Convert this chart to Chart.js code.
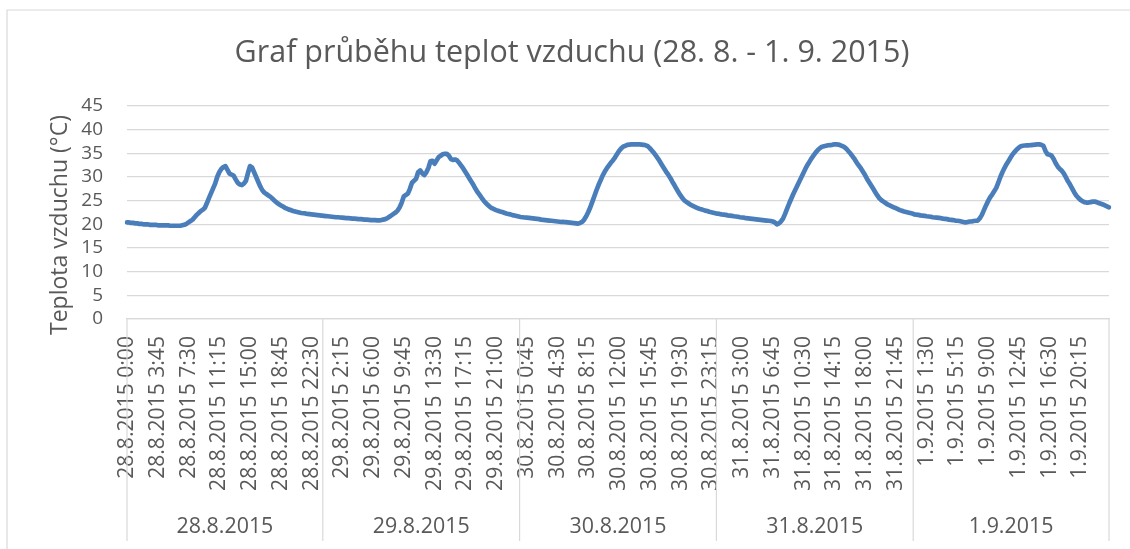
<!DOCTYPE html>
<html><head><meta charset="utf-8">
<script src="https://cdn.jsdelivr.net/npm/chart.js@4.4.1/dist/chart.umd.min.js"></script>
<style>html,body{margin:0;padding:0;background:#fff}canvas{display:block}</style>
</head><body>
<canvas id="c" width="1130" height="549"></canvas>
<script>
const chartTitle = 'Graf průběhu teplot vzduchu (28. 8. - 1. 9. 2015)';
const yTitle = 'Teplota vzduchu (°C)';
const days = ['28.8.2015', '29.8.2015', '30.8.2015', '31.8.2015', '1.9.2015'];
const yTicks = [0, 5, 10, 15, 20, 25, 30, 35, 40, 45];
const labelEvery = 15; // every 15th 15-minute reading gets a tick label

const temp28 = [
 20.4,20.4,20.3,20.3,20.2,20.2,20.1,20.1,
 20.0,20.0,20.0,19.9,19.9,19.9,19.9,19.8,
 19.8,19.8,19.8,19.8,19.8,19.7,19.7,19.7,
 19.7,19.7,19.7,19.8,19.9,20.1,20.4,20.7,
 21.0,21.5,22.0,22.4,22.8,23.1,23.5,24.5,
 25.6,26.6,27.6,28.6,30.0,31.0,31.7,32.1,
 32.3,31.5,30.7,30.5,30.3,29.5,28.8,28.4,
 28.3,28.6,29.2,30.8,32.3,32.0,31.0,30.0,
 29.0,28.0,27.2,26.7,26.4,26.1,25.8,25.4,
 25.0,24.6,24.3,24.0,23.8,23.5,23.3,23.1,
 23.0,22.8,22.7,22.6,22.5,22.4,22.35,22.3,
 22.2,22.15,22.1,22.05,22.0,21.95,21.9,21.85];
const temp29 = [
 21.8,21.75,21.7,21.65,21.6,21.55,21.5,21.5,
 21.45,21.4,21.35,21.3,21.3,21.25,21.2,21.2,
 21.15,21.1,21.1,21.05,21.0,21.0,20.95,20.9,
 20.9,20.9,20.85,20.85,20.9,21.0,21.1,21.3,
 21.6,21.9,22.2,22.5,22.9,23.6,24.6,25.9,
 26.2,26.5,27.5,28.8,29.2,29.6,31.0,31.4,
 30.8,30.4,31.0,31.9,33.3,33.4,32.8,33.5,
 34.2,34.5,34.8,34.9,34.9,34.5,33.8,33.6,
 33.7,33.5,33.0,32.4,31.8,31.1,30.4,29.7,
 29.0,28.3,27.5,26.8,26.2,25.6,25.0,24.5,
 24.1,23.7,23.4,23.2,23.0,22.85,22.7,22.6,
 22.45,22.3,22.2,22.1,21.95,21.85,21.75,21.65];
const temp30 = [
 21.55,21.5,21.45,21.4,21.35,21.3,21.25,21.2,
 21.15,21.1,21.0,20.95,20.9,20.85,20.8,20.75,
 20.7,20.65,20.6,20.55,20.5,20.5,20.45,20.4,
 20.35,20.3,20.25,20.2,20.15,20.3,20.5,21.0,
 21.7,22.6,23.6,24.8,26.0,27.2,28.3,29.3,
 30.3,31.1,31.8,32.4,33.0,33.5,34.1,34.8,
 35.5,36.0,36.4,36.6,36.8,36.85,36.9,36.9,
 36.9,36.9,36.9,36.85,36.8,36.7,36.5,36.1,
 35.6,35.1,34.5,33.9,33.2,32.5,31.8,31.1,
 30.5,29.8,29.0,28.3,27.5,26.8,26.1,25.5,
 25.0,24.7,24.4,24.1,23.9,23.7,23.5,23.3,
 23.2,23.05,22.9,22.8,22.65,22.55,22.45,22.35];
const temp31 = [
 22.25,22.2,22.1,22.05,22.0,21.9,21.85,21.8,
 21.7,21.65,21.6,21.5,21.45,21.4,21.3,21.25,
 21.2,21.15,21.1,21.05,21.0,20.95,20.9,20.85,
 20.8,20.75,20.7,20.6,20.4,20.0,20.2,20.6,
 21.2,22.2,23.3,24.4,25.4,26.4,27.3,28.2,
 29.1,30.0,30.9,31.8,32.6,33.3,34.0,34.6,
 35.2,35.7,36.1,36.4,36.5,36.6,36.7,36.75,
 36.8,36.9,36.9,36.85,36.7,36.5,36.3,35.9,
 35.4,34.9,34.3,33.7,33.0,32.4,31.8,31.1,
 30.4,29.6,28.9,28.2,27.5,26.8,26.1,25.5,
 25.1,24.8,24.5,24.2,24.0,23.8,23.6,23.4,
 23.2,23.0,22.85,22.7,22.6,22.5,22.4,22.3];
const temp01 = [
 22.1,22.05,22.0,21.9,21.85,21.8,21.7,21.65,
 21.6,21.5,21.45,21.4,21.35,21.3,21.2,21.15,
 21.1,21.0,20.95,20.9,20.8,20.75,20.7,20.6,
 20.5,20.4,20.5,20.6,20.6,20.7,20.75,20.8,
 21.3,22.0,23.0,24.0,24.9,25.7,26.3,27.0,
 27.7,28.8,30.0,31.0,31.9,32.7,33.4,34.1,
 34.8,35.3,35.8,36.2,36.5,36.6,36.65,36.7,
 36.7,36.75,36.8,36.85,36.9,36.9,36.8,36.6,
 35.5,34.8,34.7,34.5,33.8,32.9,32.2,31.7,
 31.3,30.7,29.9,29.1,28.4,27.6,26.8,26.1,
 25.6,25.2,24.9,24.7,24.6,24.6,24.7,24.8,
 24.8,24.7,24.5,24.35,24.2,24.0,23.8,23.6];

const dayTemps = [temp28, temp29, temp30, temp31, temp01];
const temps = [].concat(...dayTemps);
const perDay = temp28.length;

// category labels: one reading every 15 minutes
const categories = [];
days.forEach(d => {
  for (let q = 0; q < perDay; q++) {
    const h = Math.floor(q / 4), m = (q % 4) * 15;
    categories.push(d + ' ' + h + ':' + String(m).padStart(2, '0'));
  }
});

const FAMILY = "'Open Sans', 'Noto Sans', sans-serif";
const TEXT = '#595959';
const GRID = '#d9d9d9';
const mctx = document.createElement('canvas').getContext('2d');
function fit(text, target) {
  mctx.font = '100px ' + FAMILY;
  return 100 * target / mctx.measureText(text).width;
}
const titleSize = fit(chartTitle, 675);
const yTitleSize = fit(yTitle, 220);
const xLabSize = fit('28.8.2015 22:30', 155);
const yTickSize = fit('45', 21.7);
const groupSize = fit('28.8.2015', 97);

const decor = {
  id: 'decor',
  afterDraw(chart) {
    const ctx = chart.ctx;
    const xs = chart.scales.x;
    const area = chart.chartArea;
    ctx.save();
    // outer frame (top & left visible)
    ctx.strokeStyle = GRID; ctx.lineWidth = 1.2;
    ctx.beginPath();
    ctx.moveTo(7, 549); ctx.lineTo(7, 10); ctx.lineTo(1130, 10);
    ctx.stroke();
    // title
    ctx.fillStyle = TEXT;
    ctx.font = titleSize + 'px ' + FAMILY;
    ctx.textAlign = 'center'; ctx.textBaseline = 'alphabetic';
    ctx.fillText(chartTitle, 572, 62);
    // y title
    ctx.save();
    ctx.translate(60, 225); ctx.rotate(-Math.PI / 2);
    ctx.font = yTitleSize + 'px ' + FAMILY;
    ctx.textAlign = 'center'; ctx.textBaseline = 'middle';
    ctx.fillText(yTitle, 0, 0);
    ctx.restore();
    // x tick labels
    ctx.font = xLabSize + 'px ' + FAMILY;
    for (let i = 0; i < categories.length; i += labelEvery) {
      const x = xs.getPixelForValue(i);
      ctx.save();
      ctx.translate(x, area.bottom + 17); ctx.rotate(-Math.PI / 2);
      ctx.textAlign = 'right'; ctx.textBaseline = 'middle';
      ctx.fillText(categories[i], 0, 0);
      ctx.restore();
    }
    // group separators and day labels
    const step = xs.getPixelForValue(1) - xs.getPixelForValue(0);
    const seps = [];
    for (let d = 0; d <= days.length; d++) {
      let x;
      if (d === 0) x = area.left;
      else if (d === days.length) x = area.right;
      else x = xs.getPixelForValue(d * perDay) - step / 2;
      seps.push(x);
    }
    ctx.strokeStyle = GRID; ctx.lineWidth = 1.2;
    seps.forEach(x => {
      ctx.beginPath(); ctx.moveTo(x, area.bottom); ctx.lineTo(x, 541); ctx.stroke();
    });
    ctx.font = groupSize + 'px ' + FAMILY;
    ctx.textAlign = 'center'; ctx.textBaseline = 'alphabetic';
    days.forEach((d, k) => {
      ctx.fillText(d, (seps[k] + seps[k + 1]) / 2, 533);
    });
    ctx.restore();
  }
};

new Chart(document.getElementById('c'), {
  type: 'line',
  data: {
    labels: categories,
    datasets: [{
      data: temps,
      borderColor: '#4a7ebb',
      borderWidth: 4.7,
      pointRadius: 0,
      pointHoverRadius: 0,
      tension: 0,
      fill: false,
      borderJoinStyle: 'round',
      borderCapStyle: 'round'
    }]
  },
  options: {
    responsive: false,
    animation: false,
    devicePixelRatio: 1,
    events: [],
    layout: { padding: { top: 106, right: 21, bottom: 0, left: 0 } },
    plugins: { legend: { display: false }, title: { display: false }, tooltip: { enabled: false } },
    scales: {
      x: {
        type: 'category',
        offset: false,
        grid: { display: false },
        border: { display: true, color: GRID, width: 1.2 },
        ticks: { display: false },
        afterFit(s) { s.height = 230; }
      },
      y: {
        min: yTicks[0], max: yTicks[yTicks.length - 1],
        afterBuildTicks(s) { s.ticks = yTicks.map(v => ({ value: v })); },
        grid: { color: GRID, lineWidth: 1.2, drawTicks: false },
        border: { display: false },
        ticks: { color: TEXT, padding: 24, autoSkip: false, stepSize: 5, font: { family: FAMILY, size: yTickSize } },
        afterFit(s) { s.width = 127; }
      }
    }
  },
  plugins: [decor]
});
</script>
</body></html>
